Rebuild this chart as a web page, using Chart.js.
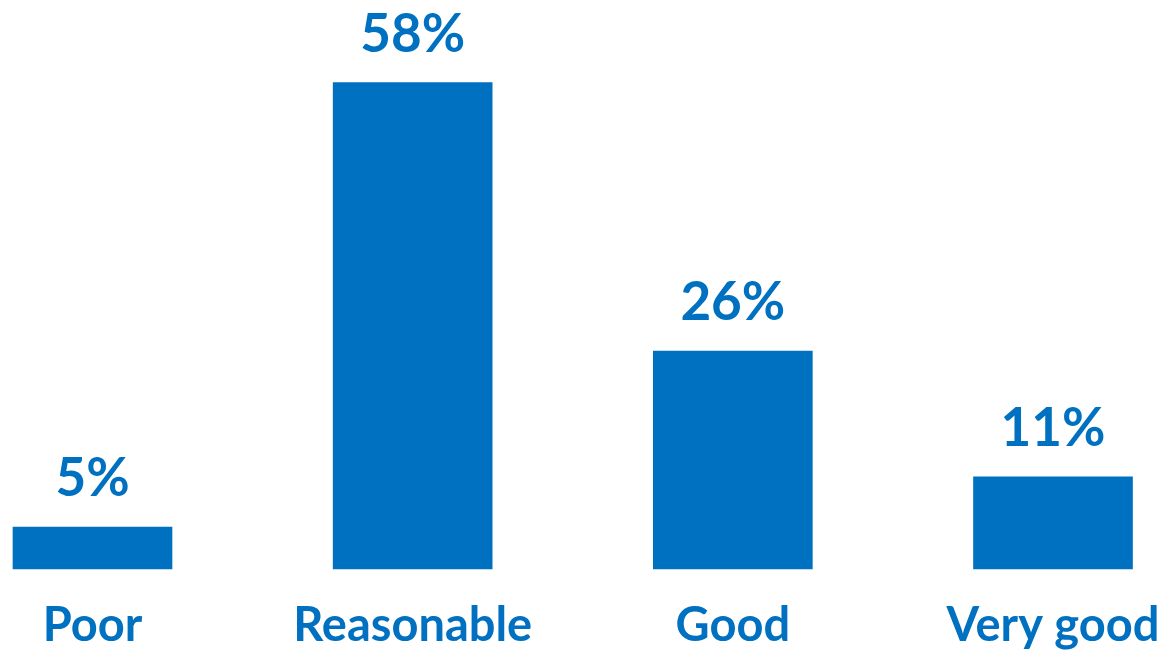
<!DOCTYPE html>
<html>
<head>
<meta charset="utf-8">
<script src="https://cdn.jsdelivr.net/npm/chart.js@4"></script>
<style>
  html, body { margin: 0; padding: 0; background: #fff; }
  #wrap { width: 1165px; height: 652px; }
</style>
</head>
<body>
<div id="wrap"><canvas id="myChart"></canvas></div>
<script>
var categories = ["Poor", "Reasonable", "Good", "Very good"];
var values = [5, 58, 26, 11];
var valueLabels = ["5%", "58%", "26%", "11%"];

var blue = '#0070C0';

// draw the percentage above each bar
var valueLabelPlugin = {
    id: 'valueLabels',
    afterDatasetsDraw: function(chart) {
        var ctx = chart.ctx;
        var meta = chart.getDatasetMeta(0);
        ctx.save();
        ctx.fillStyle = blue;
        ctx.font = 'bold 53px Lato';
        ctx.textAlign = 'center';
        ctx.textBaseline = 'alphabetic';
        meta.data.forEach(function(bar, i) {
            ctx.fillText(valueLabels[i], bar.x, bar.y - 31);
        });
        ctx.restore();
    }
};

var ctx = document.getElementById('myChart').getContext('2d');
var chart = new Chart(ctx, {
    type: 'bar',
    data: {
        labels: categories,
        datasets: [{
            data: values,
            backgroundColor: blue,
            borderWidth: 0,
            barThickness: 159,
            clip: false
        }]
    },
    options: {
        responsive: true,
        maintainAspectRatio: false,
        animation: false,
        layout: { padding: { left: 92.5, right: 112, top: 24, bottom: 0 } },
        plugins: {
            legend: { display: false },
            tooltip: { enabled: false }
        },
        scales: {
            x: {
                offset: false,
                grid: { display: false, drawTicks: false },
                border: { display: false },
                afterFit: function(scale) {
                    scale.height = 83;
                    // keep the layout padding in charge of the side margins
                    scale.paddingLeft = 0;
                    scale.paddingRight = 0;
                },
                ticks: {
                    color: blue,
                    font: { family: 'Lato', weight: 'bold', size: 47 },
                    padding: 29,
                    maxRotation: 0,
                    autoSkip: false
                }
            },
            y: {
                display: false,
                min: 0,
                max: 65
            }
        }
    },
    plugins: [valueLabelPlugin]
});
</script>
</body>
</html>
